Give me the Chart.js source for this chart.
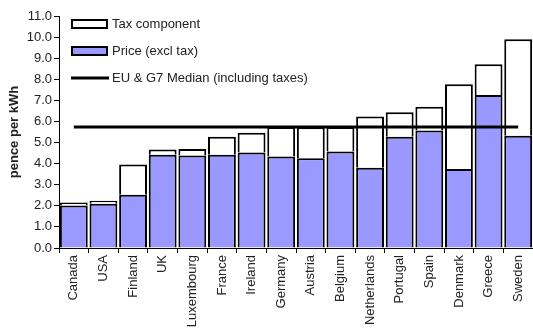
<!DOCTYPE html>
<html>
<head>
<meta charset="utf-8">
<script src="https://cdn.jsdelivr.net/npm/chart.js@4"></script>
<style>
  html, body { margin: 0; padding: 0; background: #fff; }
  #wrap { width: 533px; height: 335px; position: relative; }
</style>
</head>
<body>
<div id="wrap"><canvas id="grafico"></canvas></div>
<script>
const paises = ['Canada', 'USA', 'Finland', 'UK', 'Luxembourg', 'France', 'Ireland', 'Germany',
    'Austria', 'Belgium', 'Netherlands', 'Portugal', 'Spain', 'Denmark', 'Greece', 'Sweden'];
const precoSemImposto = [2.02, 2.10, 2.52, 4.42, 4.38, 4.42, 4.53, 4.34, 4.26, 4.57, 3.81, 5.28, 5.57, 3.75, 7.26, 5.32];
const imposto = [0.14, 0.14, 1.44, 0.25, 0.31, 0.86, 0.94, 1.40, 1.47, 1.17, 2.42, 1.16, 1.13, 4.01, 1.45, 4.58];
const mediana = [5.74, 5.74, 5.74, 5.74, 5.74, 5.74, 5.74, 5.74, 5.74, 5.74, 5.74, 5.74, 5.74, 5.74, 5.74, 5.74];
const rotulos = ['Tax component', 'Price (excl tax)', 'EU & G7 Median (including taxes)'];

const fonte = 'Arial, "Liberation Sans", sans-serif';
const corTexto = '#222';

// legenda desenhada dentro da área do gráfico
const legendaInterna = {
    id: 'legendaInterna',
    afterDraw(chart) {
        const c = chart.ctx;
        const x = 72, y0 = 24, passo = 27;
        c.save();
        c.font = '13px ' + fonte;
        c.textBaseline = 'middle';
        c.lineWidth = 2;
        c.strokeStyle = '#000';
        // Tax
        c.fillStyle = '#fff';
        c.fillRect(x, y0 - 4, 35, 8);
        c.strokeRect(x, y0 - 4, 35, 8);
        // Price
        c.fillStyle = '#9999FF';
        c.fillRect(x, y0 + passo - 4, 35, 8);
        c.strokeRect(x, y0 + passo - 4, 35, 8);
        // Median
        c.lineWidth = 3;
        c.beginPath();
        c.moveTo(x - 1, y0 + 2 * passo);
        c.lineTo(x + 37, y0 + 2 * passo);
        c.stroke();
        c.fillStyle = corTexto;
        rotulos.forEach((r, i) => c.fillText(r, x + 40, y0 + i * passo));
        c.restore();
    }
};

const ctx = document.getElementById('grafico').getContext('2d');
const grafico = new Chart(ctx, {
    data: {
        labels: paises,
        datasets: [
            {
                type: 'line',
                label: rotulos[2],
                data: mediana,
                borderColor: '#000',
                borderWidth: 3,
                pointRadius: 0,
                stack: 'm',
                order: 0
            },
            {
                type: 'bar',
                label: rotulos[1],
                data: precoSemImposto,
                backgroundColor: '#9999FF',
                borderColor: '#000',
                borderWidth: 2,
                stack: 'a',
                order: 1,
                barPercentage: 0.94,
                categoryPercentage: 1
            },
            {
                type: 'bar',
                label: rotulos[0],
                data: imposto,
                backgroundColor: '#fff',
                borderColor: '#000',
                borderWidth: 2,
                stack: 'a',
                order: 2,
                barPercentage: 0.94,
                categoryPercentage: 1
            }
        ]
    },
    options: {
        responsive: true,
        maintainAspectRatio: false,
        animation: false,
        layout: { padding: { top: 16, right: 0, left: 0, bottom: 0 } },
        plugins: {
            legend: { display: false },
            tooltip: { enabled: false }
        },
        scales: {
            x: {
                stacked: true,
                grid: {
                    display: true,
                    drawOnChartArea: false,
                    drawTicks: true,
                    tickLength: 5,
                    color: '#000',
                    offset: true
                },
                border: { color: '#000', width: 1 },
                ticks: {
                    color: corTexto,
                    font: { family: fonte, size: 13 },
                    minRotation: 90,
                    maxRotation: 90,
                    autoSkip: false,
                    padding: 2
                },
                afterFit(scale) {
                    scale.height = 87;
                    scale.paddingRight = 0;
                    scale.paddingLeft = 0;
                }
            },
            y: {
                stacked: true,
                min: 0,
                max: 11,
                grid: {
                    display: true,
                    drawOnChartArea: false,
                    drawTicks: true,
                    tickLength: 5,
                    color: '#000'
                },
                border: { color: '#000', width: 1 },
                ticks: {
                    stepSize: 1,
                    color: corTexto,
                    font: { family: fonte, size: 13 },
                    padding: 2,
                    callback: v => v.toFixed(1)
                },
                title: {
                    display: true,
                    text: 'pence per kWh',
                    color: corTexto,
                    font: { family: fonte, size: 13, weight: 'bold' },
                    padding: { top: 7, bottom: 0 }
                },
                afterFit(scale) { scale.width = 59; }
            }
        }
    },
    plugins: [legendaInterna]
});
</script>
</body>
</html>
